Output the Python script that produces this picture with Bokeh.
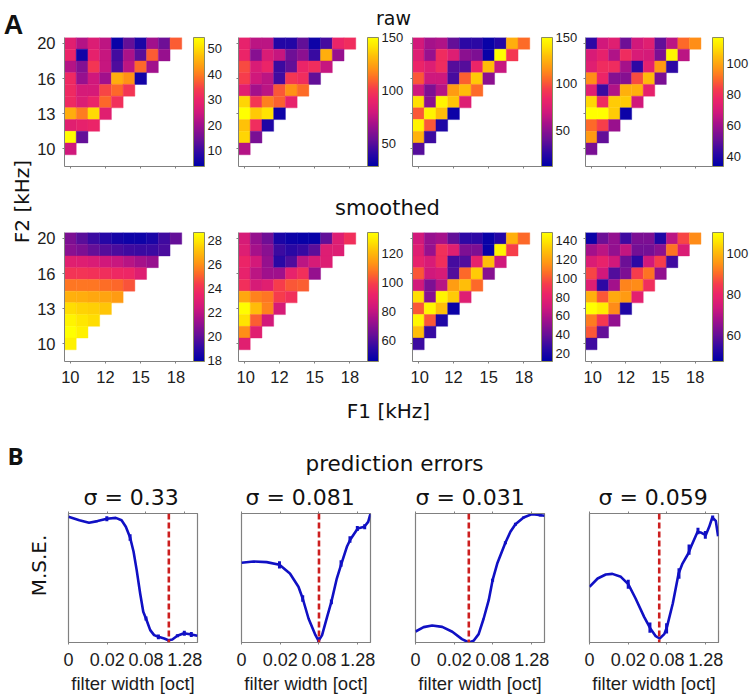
import numpy as np
from bokeh.embed import file_html
from bokeh.resources import INLINE
from bokeh.plotting import figure
from bokeh.layouts import row, column
from bokeh.models import (ColorBar, ColumnDataSource, FixedTicker, Label, LinearAxis,
                          LinearColorMapper, Span)

# ---- heat-map data, top row first (F2 = 20 kHz) ----
RAW_1 = [[28,22,27,23,5,14,7,20,15,37],[30,6,29,24,11,21,13,37,19],[22,17,33,24,12,23,38,20],
         [31,19,25,20,45,42,6],[31,26,26,35,38,33],[31,27,30,38,32],[45,40,50,28],[28,29,30],[54,14],[25]]
RAW_2 = [[89,74,74,38,38,52,32,46,91,95],[91,61,83,77,55,62,43,128,65],[104,83,91,44,52,91,95,77],
         [101,79,74,45,99,95,52],[87,68,74,107,120,111],[138,99,116,109,89],[150,135,141,32],[133,95,37],[138,58],[72]]
RAW_3 = [[71,57,60,39,25,25,14,22,125,106],[76,53,87,76,50,46,14,150,92],[83,76,87,35,35,83,129,67],
         [101,69,69,32,103,133,50],[69,46,62,119,129,106],[139,50,146,132,76],[101,146,129,15],[146,101,21],[126,29],[35]]
RAW_4 = [[42,69,73,52,69,73,50,65,90,96],[71,75,63,79,71,70,54,115,65],[73,79,79,61,42,74,98,42],
         [96,77,56,56,86,104,54],[73,44,63,102,102,75],[109,79,107,107,69],[117,117,107,36],[90,84,59],[98,50],[54]]
SMOOTH_1 = [[20.6,19.9,19.3,18.9,18.5,18.3,18.3,18.6,19.4,20.1],[20.9,20.6,20.1,19.8,19.6,19.4,19.3,19.3,19.6],
            [23.1,23,22.8,22.5,22.3,21.9,21.5,21.2],[24.1,24.1,24,23.9,23.7,23.6,23],[25.5,25.5,25.5,25.3,25.2,24.8],
            [26.8,26.7,26.6,26.5,26.3],[27.8,27.6,27.5,27.3],[28.4,28,27.8],[28.7,28.3],[28.3]]
SMOOTH_2 = [[85,72,65,51,48,47,47,63,87,95],[87,75,70,57,54,56,62,87,87],[92,84,72,54,60,79,85,87],
            [90,79,74,74,90,95,72],[95,85,88,99,103,104],[117,110,108,99,95],[134,121,110,85],[128,104,84],[112,88],[88]]
SMOOTH_3 = [[70,53,57,39,26,26,15,23,124,104],[76,53,88,77,46,46,15,144,94],[80,73,87,32,35,80,128,69],
            [100,69,73,35,104,132,49],[70,46,62,118,128,104],[137,49,144,132,76],[100,145,128,16],[145,100,22],[128,28],[30]]
SMOOTH_4 = [[49,61,66,56,63,63,52,71,86,94],[68,71,66,72,62,62,65,91,76],[76,79,74,61,54,74,85,56],
            [86,74,58,63,85,91,66],[77,54,68,93,94,82],[99,88,98,96,78],[110,107,94,52],[92,84,66],[88,60],[56]]

RAW_LIMITS = [(3.7,54.5),(28,150),(11,150),(33.5,117)]
SMOOTH_LIMITS = [(17.95,28.7),(45.5,134.5),(12,148),(47.5,110)]
RAW_TICKS = [[10,20,30,40,50],[50,100,150],[50,100,150],[40,60,80,100]]
SMOOTH_TICKS = [[18,20,22,24,26,28],[60,80,100,120],[20,40,60,80,100,120,140],[60,80,100]]
F1_TICKS = {0:"10",3:"12",6:"15",9:"18"}
F2_TICKS = {0:"10",3:"13",6:"16",9:"20"}

# ---- prediction-error curves (x in filter-width tick steps) ----
W_1 = [0,.28,.53,.75,.99,1.22,1.37,1.48,1.59,1.68,1.76,1.85,1.93,2.0,2.11,2.21,2.32,2.47,2.58,2.68,2.81,2.98,3.17,3.33]
E_1 = [.974,.948,.928,.941,.959,.966,.948,.897,.814,.703,.561,.38,.238,.186,.096,.057,.044,.031,.018,.023,.052,.072,.062,.052]
W_2 = [0,.31,.65,.98,1.25,1.47,1.58,1.73,1.91,1.99,2.08,2.21,2.32,2.46,2.58,2.72,2.81,3.0,3.17,3.27,3.33]
E_2 = [.618,.628,.623,.602,.535,.432,.341,.186,.057,.013,.057,.199,.315,.496,.612,.742,.798,.884,.897,.935,1.0]
W_3 = [0,.21,.43,.69,.95,1.2,1.38,1.5,1.63,1.76,1.89,1.99,2.11,2.32,2.45,2.58,2.79,3.01,3.14,3.33]
E_3 = [.085,.119,.132,.121,.083,.026,0,.013,.065,.186,.328,.483,.612,.773,.858,.917,.969,.995,.99,.982]
W_4 = [0,.21,.42,.59,.81,1.0,1.19,1.41,1.57,1.71,1.81,1.93,2.0,2.15,2.3,2.4,2.55,2.62,2.79,2.89,3.0,3.09,3.17,3.26,3.32]
E_4 = [.432,.496,.527,.532,.509,.452,.341,.199,.109,.049,.031,.065,.121,.302,.535,.612,.69,.742,.858,.85,.832,.897,.969,.943,.824]
BAR_X = [[.99,1.59,2.0,2.32,2.58,2.81,2.99,3.17],[.98,1.58,1.99,2.32,2.57,2.8,2.99,3.18],
         [1.99,2.32,2.58,2.79,3.01,3.22],[1.0,1.56,1.99,2.31,2.57,2.8,2.99,3.18]]
BAR_Y = [[.959,.814,.186,.044,.018,.052,.072,.062],[.602,.341,.02,.315,.612,.798,.884,.897],
         [.483,.773,.917,.969,.995,.985],[.452,.115,.11,.535,.72,.865,.835,.965]]
BAR_E = [[.02,.025,.015,.018,.01,.012,.02,.02],[.028,.025,.02,.018,.025,.025,.02,.02],
         [.012,.012,.012,.008,.005,.008],[.035,.04,.04,.04,.04,.025,.03,.02]]
BEST_W = [2.59,2.0,1.376,1.80]
SIGMAS = ["σ = 0.33","σ = 0.081","σ = 0.031","σ = 0.059"]
WIDTH_TICKS = {0:"0",1:"0.02",2:"0.08",3:"1.28"}

HELV = "Liberation Sans"
LUCIDA = "DejaVu Sans"
INK = "#1c1c1c"
GREY = "#808080"

stops = [(0,"#0000a8"),(.1,"#2c08a4"),(.2,"#640f98"),(.32,"#a0108c"),(.42,"#d0187c"),(.52,"#ec2468"),
         (.6,"#f63c4c"),(.68,"#fd6a28"),(.76,"#ff9414"),(.86,"#ffc008"),(.94,"#ffe800"),(1,"#ffff00")]
rgb = np.array([[int(s[i:i+2],16) for i in (1,3,5)] for _,s in stops],float)
pos = [u for u,_ in stops]; t = np.linspace(0,1,256)
PALETTE = ["#%02x%02x%02x"%tuple(int(round(np.interp(u,pos,rgb[:,k]))) for k in range(3)) for u in t]

HEAT_L = [30,2,2,2]; HEAT_R = [43,43,42,37]

def strip(w,h,items):
    p = figure(width=w,height=h,x_range=(0,w),y_range=(h,0),x_axis_location=None,y_axis_location=None,
               toolbar_location=None,output_backend="svg",min_border=0,outline_line_color=None)
    p.grid.visible = False
    for (x,y,txt,size,font,style,ang,base) in items:
        p.add_layout(Label(x=x,y=y,text=txt,text_font_size=f"{size}px",text_font=font,text_font_style=style,
                           text_color="#111111",text_align="center",text_baseline=base,angle=ang,angle_units="deg"))
    return p

def heat(i,rows,lim,ticks,top,bottom,xlabels):
    L,R = HEAT_L[i],HEAT_R[i]
    xs,ys,vs = [],[],[]
    for r,vals in enumerate(rows):
        for c,v in enumerate(vals):
            xs.append(c); ys.append(9-r); vs.append(v)
    src = ColumnDataSource(dict(x=xs,y=ys,v=vs))
    p = figure(width=L+129+R,height=top+129+bottom,x_range=(-.5,10.5),y_range=(-1.5,9.5),toolbar_location=None,
               output_backend="svg",min_border_left=L,min_border_right=R,min_border_top=top,min_border_bottom=bottom,
               outline_line_color=None)
    p.grid.visible = False
    cm = LinearColorMapper(palette=PALETTE,low=lim[0],high=lim[1])
    fill = {"field":"v","transform":cm}
    p.rect("x","y",1,1,source=src,fill_color=fill,line_color=fill,line_width=.4)
    for ax,t_,show in ((p.xaxis[0],F1_TICKS,xlabels),(p.yaxis[0],F2_TICKS,i==0)):
        ax.ticker = FixedTicker(ticks=list(t_))
        ax.major_label_overrides = dict(t_) if show else {k:"" for k in t_}
        ax.major_label_text_font = HELV; ax.major_label_text_font_size = "16.5px" if show else "1px"
        ax.major_label_text_color = INK
        ax.axis_line_color = GREY; ax.major_tick_line_color = GREY
        ax.major_tick_in = 0; ax.major_tick_out = 2; ax.minor_tick_line_color = None
        ax.major_label_standoff = 7 if show else 0
    cb = ColorBar(color_mapper=cm,ticker=FixedTicker(ticks=ticks),width=11,height=129,margin=0,padding=0,
                  label_standoff=3,major_tick_line_color=None,minor_tick_line_color=None,bar_line_color="#8a8a60",
                  major_label_text_font=HELV,major_label_text_font_size="13px",major_label_text_color=INK,
                  border_line_color=None,background_fill_color=None)
    p.add_layout(cb,"right")
    return p

LINE_L = [18,6,6,6]; LINE_R = [38,39,39,33]; TITLE_OFFSET = [15,4,0,9]
def curve(i,w,e):
    L,R = LINE_L[i],LINE_R[i]
    p = figure(width=L+129+R,height=35+129+56,x_range=(0,3.33),y_range=(0,1),toolbar_location=None,output_backend="svg",
               min_border_left=L,min_border_right=R,min_border_top=35,min_border_bottom=56,y_axis_location=None,
               outline_line_color=GREY,outline_line_width=1.2,title=SIGMAS[i],title_location="above")
    p.title.text_font = LUCIDA; p.title.text_font_size = "22px"; p.title.text_font_style = "normal"
    p.title.text_color = "#111111"; p.title.align = "left"; p.title.offset = TITLE_OFFSET[i]; p.title.standoff = 4
    p.grid.visible = False
    p.add_layout(Span(location=BEST_W[i],dimension="height",line_color="#cc1f1f",line_width=2.6,line_dash="6 3"))
    p.line(w,e,line_color="#1010c4",line_width=2.6,line_join="round")
    bx,by,be = map(np.array,(BAR_X[i],BAR_Y[i],BAR_E[i]))
    p.segment(bx,by-be,bx,by+be,line_color="#1010c4",line_width=3)
    ax = p.xaxis[0]
    ax.ticker = FixedTicker(ticks=list(WIDTH_TICKS)); ax.major_label_overrides = dict(WIDTH_TICKS)
    ax.major_label_text_font = HELV; ax.major_label_text_font_size = "18px"; ax.major_label_text_color = INK
    ax.axis_label = "filter width [oct]"; ax.axis_label_text_font = HELV; ax.axis_label_text_font_style = "normal"
    ax.axis_label_text_font_size = "18.5px"; ax.axis_label_text_color = INK; ax.axis_label_standoff = 4
    ax.major_label_standoff = 8
    top = LinearAxis(ticker=FixedTicker(ticks=list(WIDTH_TICKS)),major_label_text_font_size="1px",
                     major_label_text_color=None,major_label_standoff=0)
    p.add_layout(top,"above")
    for a in (ax,top):
        a.axis_line_color = GREY; a.major_tick_line_color = GREY; a.major_tick_in = 0; a.major_tick_out = 2
        a.minor_tick_line_color = None
    return p

left_top = strip(34,388,[(13,24.5,"A",27,HELV,"bold",0,"alphabetic"),(21,201,"F2 [kHz]",20,LUCIDA,"normal",90,"middle")])
left_bot = strip(50,308,[(15,67,"B",24,"Open Sans","bold",0,"middle"),(38,177,"M.S.E.",20,LUCIDA,"normal",90,"middle")])
s1 = strip(720,29,[(359,17.5,"raw",19,LUCIDA,"normal",0,"alphabetic")])
s2 = strip(720,52,[(353,35,"smoothed",21,LUCIDA,"normal",0,"middle")])
s3 = strip(704,90,[(338,22,"F1 [kHz]",20,LUCIDA,"normal",0,"middle"),(344,75,"prediction errors",21.5,LUCIDA,"normal",0,"middle")])

raw = [RAW_1,RAW_2,RAW_3,RAW_4]; smooth = [SMOOTH_1,SMOOTH_2,SMOOTH_3,SMOOTH_4]
r1 = row(*[heat(i,raw[i],RAW_LIMITS[i],RAW_TICKS[i],8,6,False) for i in range(4)],spacing=0)
r2 = row(*[heat(i,smooth[i],SMOOTH_LIMITS[i],SMOOTH_TICKS[i],8,27,True) for i in range(4)],spacing=0)
curves = [(W_1,E_1),(W_2,E_2),(W_3,E_3),(W_4,E_4)]
r3 = row(*[curve(i,*curves[i]) for i in range(4)],spacing=0)
root = column(row(left_top,column(s1,r1,s2,r2,spacing=0),spacing=0),
              row(left_bot,column(s3,r3,spacing=0),spacing=0),spacing=0)
open("out.html","w").write(file_html(root,INLINE))
